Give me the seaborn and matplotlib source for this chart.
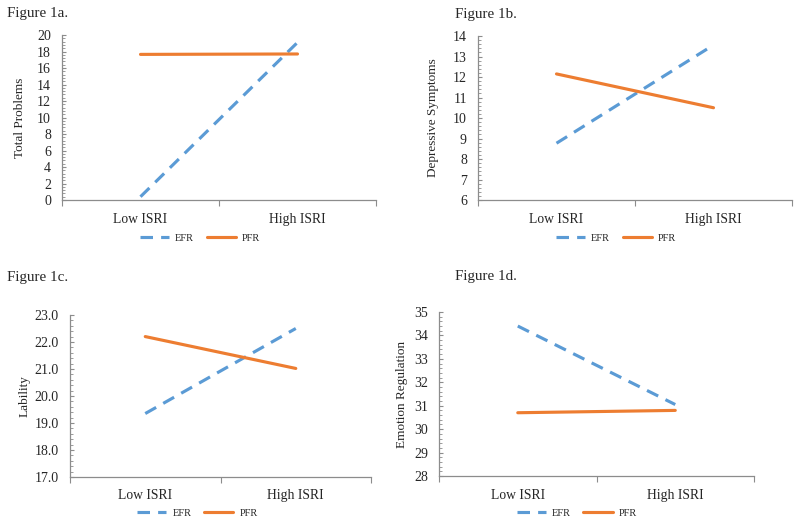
import pandas as pd
import seaborn as sns
import matplotlib
matplotlib.use("Agg")
import matplotlib.pyplot as plt
from matplotlib.ticker import AutoMinorLocator, FormatStrFormatter

# data
levels = ["Low ISRI", "High ISRI"]
groups = ["EFR", "PFR"]

total_efr = [0.4, 19.1]
total_pfr = [17.65, 17.7]
dep_efr = [8.77, 13.56]
dep_pfr = [12.15, 10.5]
lab_efr = [19.35, 22.5]
lab_pfr = [22.2, 21.02]
emo_efr = [34.4, 31.05]
emo_pfr = [30.7, 30.8]

panels = [
    ("Figure 1a.", "Total Problems", total_efr, total_pfr, (0, 20), 2, "%d"),
    ("Figure 1b.", "Depressive Symptoms", dep_efr, dep_pfr, (6, 14), 1, "%d"),
    ("Figure 1c.", "Lability", lab_efr, lab_pfr, (17, 23), 1, "%.1f"),
    ("Figure 1d.", "Emotion Regulation", emo_efr, emo_pfr, (28, 35), 1, "%d"),
]

sns.set_theme(style="white")
plt.rcParams["font.family"] = ["Liberation Serif", "DejaVu Serif"]

blue = "#5B9BD5"
orange = "#ED7D31"
gray = "#8C8C8C"

fig = plt.figure(figsize=(8, 5.24), dpi=100)

# axes boxes [left, bottom, width, height] in figure fraction
boxes = [
    [0.0775, 0.6183, 0.3925, 0.3149],
    [0.5975, 0.6183, 0.3925, 0.3130],
    [0.0875, 0.0897, 0.3763, 0.3092],
    [0.5488, 0.0916, 0.3937, 0.3130],
]
title_pos = [(0.009, 0.974), (0.569, 0.973), (0.009, 0.471), (0.569, 0.473)]
legend_pos = [(0.25, 0.546), (0.77, 0.546), (0.247, 0.021), (0.721, 0.021)]
label_x = [-0.115, -0.124, -0.13, -0.10]

for i, (title, ylabel, efr, pfr, ylim, step, fmt) in enumerate(panels):
    df = pd.DataFrame({
        "level": levels * 2,
        "value": efr + pfr,
        "group": [groups[0]] * 2 + [groups[1]] * 2,
    })
    ax = fig.add_axes(boxes[i])
    sns.lineplot(data=df, x="level", y="value", hue="group", style="group",
                 palette={"EFR": blue, "PFR": orange},
                 dashes={"EFR": (4, 2.6), "PFR": ""},
                 linewidth=2.25, ax=ax)

    ax.set_xlim(-0.5, 1.5)
    ax.set_ylim(*ylim)
    ax.set_yticks(range(ylim[0], ylim[1] + 1, step))
    ax.yaxis.set_major_formatter(FormatStrFormatter(fmt))
    ax.yaxis.set_minor_locator(AutoMinorLocator(5))
    ax.set_xticks([0, 1])
    ax.set_xticklabels(levels)
    ax.set_xticks([-0.5, 0.5, 1.5], minor=True)
    ax.tick_params(axis="x", which="major", length=0, pad=9, labelsize=9.8)
    ax.tick_params(axis="x", which="minor", length=4, width=0.8, color=gray,
                   direction="out", bottom=True)
    ax.tick_params(axis="y", which="major", length=3, width=0.8, color=gray,
                   direction="in", left=True, labelsize=10, pad=8)
    ax.tick_params(axis="y", which="minor", length=2.5, width=0.6, color=gray,
                   direction="in", left=True)

    for side in ["top", "right"]:
        ax.spines[side].set_visible(False)
    for side in ["left", "bottom"]:
        ax.spines[side].set_color(gray)
        ax.spines[side].set_linewidth(0.9)

    ax.set_xlabel("")
    ax.set_ylabel(ylabel, fontsize=9.5)
    ax.yaxis.set_label_coords(label_x[i], 0.5)

    handles, labels = ax.get_legend_handles_labels()
    ax.get_legend().remove()
    fig.legend(handles, labels, loc="center", bbox_to_anchor=legend_pos[i],
               ncol=2, frameon=False, fontsize=7.5, handlelength=2.8,
               columnspacing=1.2, handletextpad=0.6)

    fig.text(title_pos[i][0], title_pos[i][1], title, fontsize=10.8,
             ha="left", va="center")

fig.savefig("out.png", dpi=100, facecolor="white")
plt.close(fig)
